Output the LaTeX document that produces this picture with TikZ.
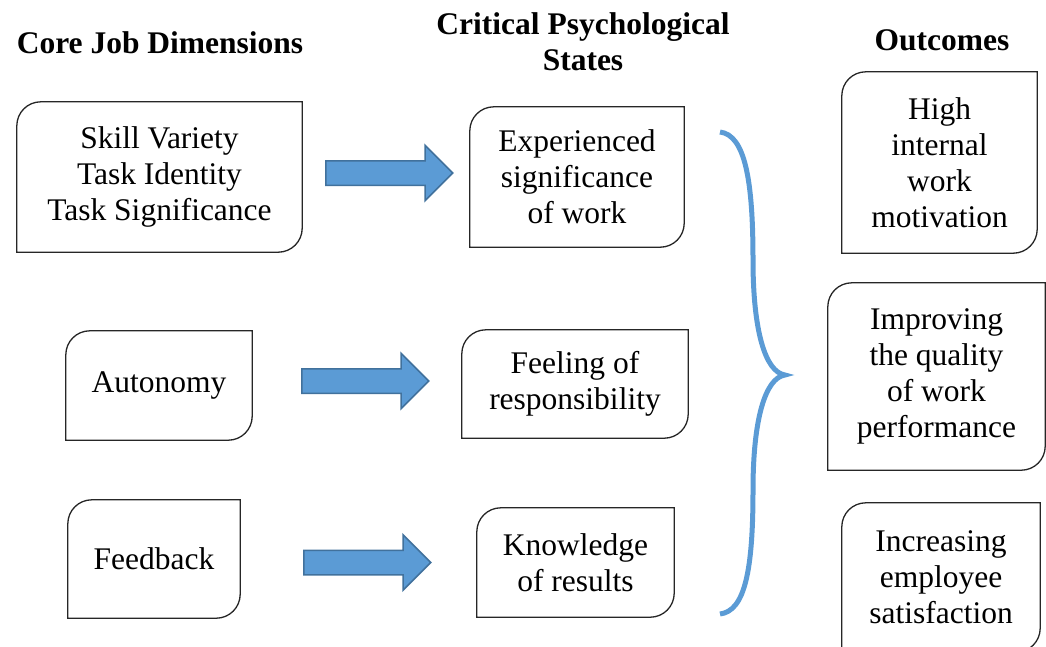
\documentclass[tikz,border=0pt]{standalone}
\usepackage{fontspec}
\setmainfont{LiberationSerif}[Extension=.ttf,UprightFont=*-Regular,BoldFont=*-Bold]
\usetikzlibrary{shapes.arrows}
\definecolor{arrowblue}{HTML}{5B9BD5}
\definecolor{arrowedge}{HTML}{41719C}

% box with rounded top-left and bottom-right corners
\newcommand{\diagbox}[1]{%
  \draw[boxline] (#1.south west) -- ([yshift=-24pt]#1.north west)
    arc[start angle=180,end angle=90,radius=24pt] -- (#1.north east)
    -- ([yshift=24pt]#1.south east)
    arc[start angle=0,end angle=-90,radius=24pt] -- cycle;}

\begin{document}
\begin{tikzpicture}
  [x=1pt,y=1pt,
   boxline/.style={draw=black!85,line width=1.3pt},
   txt/.style={align=center,inner sep=0pt,font=\fontsize{31.5}{36}\selectfont\rmfamily},
   head/.style={align=center,inner sep=0pt,font=\fontsize{31.5}{36}\selectfont\rmfamily\bfseries},
   blockarrow/.style={single arrow,draw=arrowedge,fill=arrowblue,line width=1.5pt,
     inner xsep=0pt,inner ysep=11.5pt,single arrow head extend=15.5pt,
     minimum height=127pt,anchor=tail}]
  \clip (0,0) rectangle (1046,-646);

  % headings
  \node[head] (h1) at (160,-43) {Core Job Dimensions};
  \node[head] (h2) at (583,-42) {Critical Psychological\\States};
  \node[head] (h3) at (942,-40) {Outcomes};

  % core job dimensions
  \node[txt,minimum width=285pt,minimum height=150pt] (b1) at (159.5,-177) {Skill Variety\\Task Identity\\Task Significance};
  \node[txt,minimum width=186pt,minimum height=109pt] (b2) at (159,-385.5) {Autonomy};
  \node[txt,minimum width=172pt,minimum height=118pt] (b3) at (154,-559) {Feedback};

  % psychological states
  \node[txt,minimum width=214pt,minimum height=140pt] (c1) at (577,-177) {Experienced\\significance\\of work};
  \node[txt,minimum width=226pt,minimum height=108pt] (c2) at (575,-384) {Feeling of\\responsibility};
  \node[txt,minimum width=197pt,minimum height=109pt] (c3) at (575.5,-562.5) {Knowledge\\of results};

  % outcomes
  \node[txt,minimum width=195pt,minimum height=181pt] (o1) at (939.5,-162.5) {High\\internal\\work\\motivation};
  \node[txt,minimum width=217pt,minimum height=187pt] (o2) at (936.5,-376.5) {Improving\\the quality\\of work\\performance};
  \node[txt,minimum width=198pt,minimum height=149pt] (o3) at (941,-577.5) {Increasing\\employee\\satisfaction};

  \foreach \n in {b1,b2,b3,c1,c2,c3,o1,o2,o3}
    \diagbox{\n};

  % block arrows
  \node[blockarrow] (a1) at (325,-173) {};
  \node[blockarrow] (a2) at (301,-381) {};
  \node[blockarrow] (a3) at (303,-562.5) {};

  % brace
  \coordinate (bt) at (720,-132);
  \coordinate (bm) at (785,-375);
  \coordinate (bb) at (720,-614);
  \draw[arrowblue,line width=5pt]
    (bt) .. controls (745,-135) and (753,-180) .. (753,-260)
    .. controls (753,-330) and (765,-372) .. (bm)
    .. controls (765,-378) and (753,-420) .. (753,-490)
    .. controls (753,-570) and (745,-611) .. (bb);
\end{tikzpicture}
\end{document}
